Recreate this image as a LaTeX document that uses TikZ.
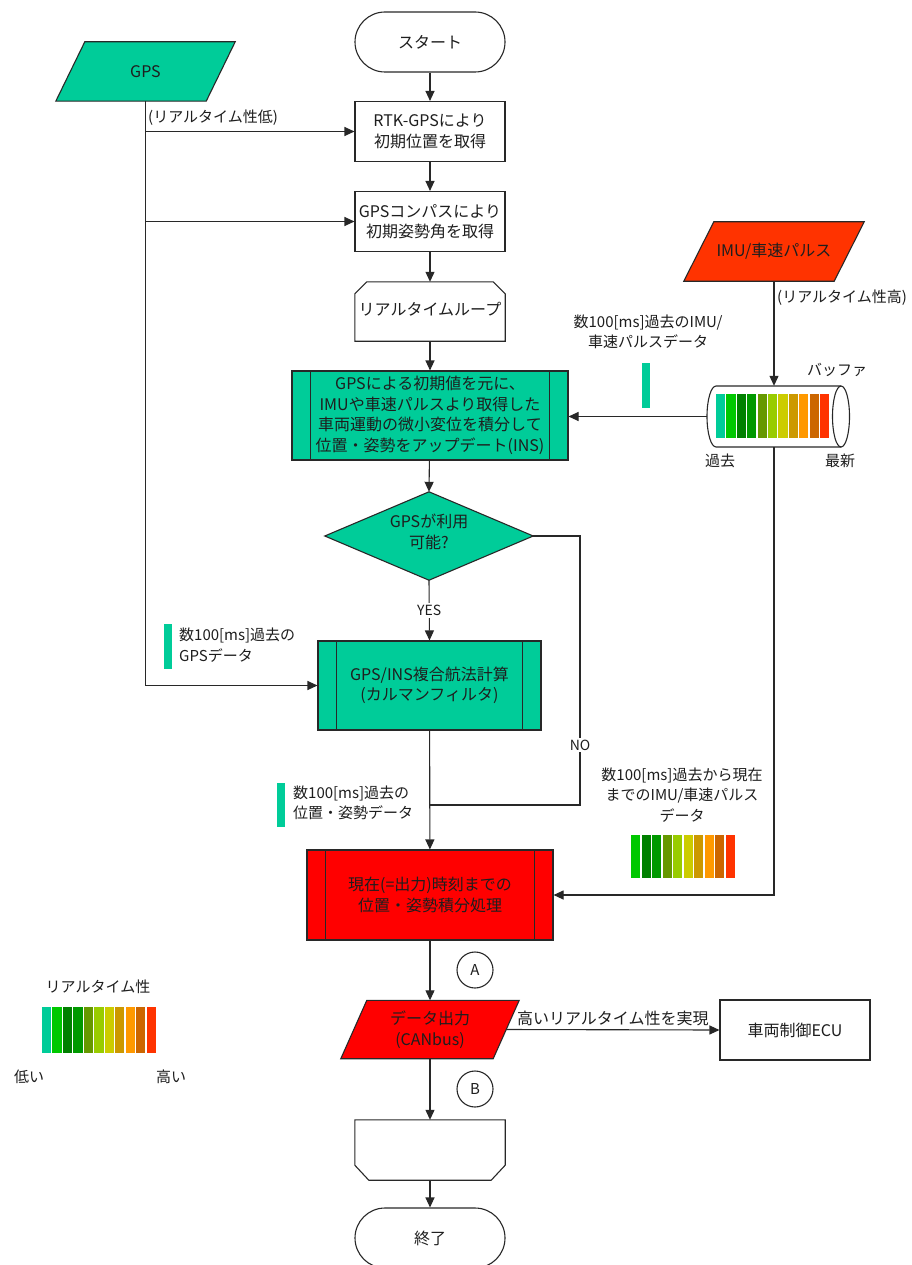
\documentclass[tikz,border=0pt]{standalone}
\usepackage{fontspec}
\setmainfont{Noto Sans CJK JP}
\usetikzlibrary{arrows.meta}

% fills
\definecolor{insgreen}{RGB}{0,204,153}
\definecolor{hotred}{RGB}{255,0,0}
\definecolor{imuorange}{RGB}{255,51,0}
\definecolor{lineclr}{RGB}{40,40,40}
\definecolor{txtclr}{RGB}{30,30,30}
% real-time scale, low to high
\definecolor{rtA}{RGB}{0,204,153}
\definecolor{rtB}{RGB}{0,200,0}
\definecolor{rtC}{RGB}{0,128,0}
\definecolor{rtD}{RGB}{0,153,0}
\definecolor{rtE}{RGB}{102,153,0}
\definecolor{rtF}{RGB}{153,204,0}
\definecolor{rtG}{RGB}{204,204,0}
\definecolor{rtH}{RGB}{204,153,0}
\definecolor{rtI}{RGB}{255,153,0}
\definecolor{rtJ}{RGB}{204,102,0}
\definecolor{rtK}{RGB}{255,51,0}

\newcommand{\bxfont}{\fontsize{16}{20.5}\selectfont}
\newcommand{\lbfont}{\fontsize{15}{20.5}\selectfont}
\newcommand{\smfont}{\fontsize{14}{18}\selectfont}

\tikzset{
  ln/.style={draw=lineclr, line width=1.1pt},
  flow/.style={ln, -{Triangle[length=10pt,width=9pt]}},
  box/.style={rectangle, align=center, font=\bxfont, text=txtclr, inner sep=1pt},
  stepbox/.style={box, ln, fill=white},
  lbl/.style={align=center, font=\lbfont, text=txtclr, inner sep=1pt},
  conn/.style={circle, ln, fill=white, minimum size=36pt, font=\lbfont, text=txtclr, inner sep=0pt},
}

\begin{document}
\begin{tikzpicture}[x=1pt, y=-1pt]
\fill[white] (0,0) rectangle (911,1265);
\useasboundingbox (0,0) rectangle (911,1265);

% ---------- main column ----------
\node[stepbox, rounded corners=30pt, minimum width=150pt, minimum height=60pt] (start) at (430,42) {スタート};
\node[stepbox, minimum width=150pt, minimum height=60pt] (rtk) at (430,131.5) {RTK-GPSにより\\初期位置を取得};
\node[stepbox, minimum width=150pt, minimum height=60pt] (comp) at (430,221.5) {GPSコンパスにより\\初期姿勢角を取得};

% loop start: top corners cut
\node[box, minimum width=150pt, minimum height=59pt] (loops) at (430,311.5) {};
\draw[ln, fill=white] (loops.south west) -- ([yshift=-12pt]loops.north west) -- ([xshift=12pt]loops.north west)
  -- ([xshift=-12pt]loops.north east) -- ([yshift=-12pt]loops.north east) -- (loops.south east) -- cycle;
\node[box] (loopstxt) at (430,309) {リアルタイムループ};

% INS update (predefined process)
\node[stepbox, fill=insgreen, minimum width=276pt, minimum height=89pt] (ins) at (430,415.5)
  {GPSによる初期値を元に、\\IMUや車速パルスより取得した\\車両運動の微小変位を積分して\\位置・姿勢をアップデート(INS)};
\draw[ln] ([xshift=19pt]ins.north west) -- ([xshift=19pt]ins.south west);
\draw[ln] ([xshift=-19pt]ins.north east) -- ([xshift=-19pt]ins.south east);

% decision
\node[box, minimum width=208pt, minimum height=88pt] (dec) at (429,536) {};
\draw[ln, fill=insgreen] (dec.north) -- (dec.east) -- (dec.south) -- (dec.west) -- cycle;
\node[box] (dectxt) at (429,532) {GPSが利用\\可能?};

% Kalman filter
\node[stepbox, fill=insgreen, minimum width=223pt, minimum height=89pt] (kal) at (429.5,685.5)
  {GPS/INS複合航法計算\\(カルマンフィルタ)};
\draw[ln] ([xshift=19pt]kal.north west) -- ([xshift=19pt]kal.south west);
\draw[ln] ([xshift=-19pt]kal.north east) -- ([xshift=-19pt]kal.south east);

% integration up to output time
\node[stepbox, fill=hotred, minimum width=246pt, minimum height=90pt] (red) at (430,895)
  {現在(=出力)時刻までの\\位置・姿勢積分処理};
\draw[ln] ([xshift=19pt]red.north west) -- ([xshift=19pt]red.south west);
\draw[ln] ([xshift=-19pt]red.north east) -- ([xshift=-19pt]red.south east);

% data output (parallelogram)
\node[box, minimum width=178pt, minimum height=58pt] (out) at (430,1029.5) {};
\draw[ln, fill=hotred] (out.south west) -- ([xshift=26pt]out.north west) -- (out.north east)
  -- ([xshift=-26pt]out.south east) -- cycle;
\node[box] (outtxt) at (430,1029.5) {データ出力\\(CANbus)};

\node[stepbox, minimum width=150pt, minimum height=60pt] (ecu) at (795,1030) {車両制御ECU};

% loop end: bottom corners cut
\node[box, minimum width=150pt, minimum height=60pt] (loope) at (430,1150) {};
\draw[ln, fill=white] (loope.north west) -- ([yshift=15pt]loope.south west) -- ([xshift=14pt]loope.south west)
  -- ([xshift=-14pt]loope.south east) -- ([yshift=15pt]loope.south east) -- (loope.north east) -- cycle;

\node[stepbox, rounded corners=30pt, minimum width=150pt, minimum height=60pt] (end) at (430,1238) {終了};

\node[conn] (ca) at (475,970) {A};
\node[conn] (cb) at (475,1089) {B};

% ---------- inputs ----------
\node[box, minimum width=179pt, minimum height=59pt] (gps) at (145.5,71.5) {};
\draw[ln, fill=insgreen] (gps.south west) -- ([xshift=29pt]gps.north west) -- (gps.north east)
  -- ([xshift=-29pt]gps.south east) -- cycle;
\node[box] (gpstxt) at (145.5,71.5) {GPS};

\node[box, minimum width=180pt, minimum height=59pt] (imu) at (774,251.5) {};
\draw[ln, fill=imuorange] (imu.south west) -- ([xshift=30pt]imu.north west) -- (imu.north east)
  -- ([xshift=-30pt]imu.south east) -- cycle;
\node[box] (imutxt) at (774,251.5) {IMU/車速パルス};

% buffer (horizontal cylinder) with stored samples
\node[box, minimum width=134pt, minimum height=61pt] (buf) at (774,416.5) {};
\foreach \c [count=\i from 0] in {rtA,rtB,rtC,rtD,rtE,rtF,rtG,rtH,rtI,rtJ,rtK}
  \fill[\c] (716+\i*10.4,394) rectangle ++(9.2,44);
\draw[ln] (841,386) -- (716,386) arc (270:90:9 and 30.5) -- (841,447);
\draw[ln] (841,416.5) ellipse (8.5 and 30.5);

% ---------- connectors ----------
\draw[flow] (start) -- (rtk);
\draw[flow] (rtk) -- (comp);
\draw[flow] (comp) -- (loops);
\draw[flow] (loops) -- (ins);
\draw[flow] (ins) -- (dec.north);
\draw[flow] (dec.south) -- node[fill=white, font=\smfont, text=txtclr, inner sep=2pt] (yes) {YES} (kal.north);
\draw[flow] (kal) -- (red);
\coordinate (nc) at (580,805);
\coordinate (nj) at (kal.south |- nc);
\draw[ln] (dec.east) -| (nc) -- (nj);
\node[fill=white, font=\smfont, text=txtclr, inner sep=2pt] (no) at (580,745) {NO};
\draw[flow] (red) -- (out.south |- out.north);
\draw[flow] (out) -- (loope);
\draw[flow] (loope) -- (end);
\draw[flow] ([xshift=-13pt]out.east) -- node[lbl, font=\bxfont, above=2pt] (hirt) {高いリアルタイム性を実現} (ecu.west);

\draw[flow] (gps.south) |- (kal.west);
\draw[flow] (gps.south |- rtk.west) -- (rtk.west);
\draw[flow] (gps.south |- comp.west) -- (comp.west);

\draw[flow] (imu.south) -- (buf.north);
\draw[flow] (buf.west) -- (buf.west -| ins.east);
\draw[flow] (buf.south) |- (red.east);

% ---------- labels ----------
\node[lbl, anchor=west] (lowrt) at (147,118) {(リアルタイム性低)};
\node[lbl, anchor=west] (highrt) at (776,298) {(リアルタイム性高)};
\node[lbl] (imupast) at (648,332) {数100[ms]過去のIMU/\\車速パルスデータ};
\fill[rtA] (642,363) rectangle (650,408);
\node[lbl] (buflbl) at (837,370) {バッファ};
\node[lbl] (pastlbl) at (720,461) {過去};
\node[lbl] (newlbl) at (840,461) {最新};

\fill[rtA] (164,624) rectangle (172,669);
\node[lbl, anchor=west, align=left] (gpspast) at (178,645) {数100[ms]過去の\\GPSデータ};

\fill[rtA] (277,783) rectangle (285,827);
\node[lbl, anchor=west, align=left] (pospast) at (292,803) {数100[ms]過去の\\位置・姿勢データ};

\node[lbl] (imunow) at (682,795) {数100[ms]過去から現在\\までのIMU/車速パルス\\データ};
\foreach \c [count=\i from 0] in {rtB,rtC,rtD,rtE,rtF,rtG,rtH,rtI,rtJ,rtK}
  \fill[\c] (631+\i*10.5,835) rectangle ++(9.3,43);

% legend
\node[lbl] (legttl) at (98,987) {リアルタイム性};
\foreach \c [count=\i from 0] in {rtA,rtB,rtC,rtD,rtE,rtF,rtG,rtH,rtI,rtJ,rtK}
  \fill[\c] (42+\i*10.45,1007) rectangle ++(9.25,46);
\node[lbl] (leglow) at (29,1077) {低い};
\node[lbl] (leghigh) at (171,1077) {高い};
\end{tikzpicture}
\end{document}
